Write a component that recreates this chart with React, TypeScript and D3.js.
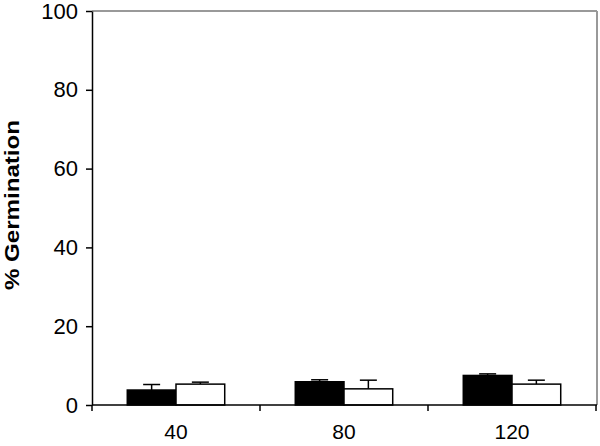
import { useEffect, useRef } from "react";
import * as d3 from "d3";

const categories = ["40", "80", "120"];
const seriesNames = ["dark", "light"];
const darkValues = [3.8, 5.9, 7.5];
const darkErrors = [1.4, 0.5, 0.4];
const lightValues = [5.3, 4.1, 5.3];
const lightErrors = [0.5, 2.2, 1.0];
const yTicks = [0, 20, 40, 60, 80, 100];

const width = 600;
const height = 446;
const marginTop = 11;
const marginBottom = 41;
const marginLeft = 92;
const marginRight = 4;
const font = "Liberation Sans, Arial, sans-serif";

const App = () => {
  const axisRef = useRef<SVGGElement>(null);
  const yAxisRef = useRef<SVGGElement>(null);

  const chartBottomY = height - marginBottom;

  const xScale = d3
    .scaleBand()
    .domain(categories)
    .range([marginLeft, width - marginRight]);

  const inner = d3
    .scaleBand()
    .domain(seriesNames)
    .range([0, xScale.bandwidth() * 0.58]);

  const yScale = d3
    .scaleLinear()
    .domain([0, 100])
    .range([chartBottomY, marginTop]);

  const rows = categories.map((c, i) => ({
    cat: c,
    bars: [
      { s: "dark", v: darkValues[i], e: darkErrors[i], fill: "#000" },
      { s: "light", v: lightValues[i], e: lightErrors[i], fill: "#fff" },
    ],
  }));

  useEffect(() => {
    const xAxis = d3.axisBottom(xScale).tickSize(0).tickPadding(19);
    const gx = d3.select(axisRef.current!);
    gx.call(xAxis);
    gx.select(".domain").remove();
    gx.selectAll("text")
      .attr("font-size", "21px")
      .attr("font-family", font)
      .attr("fill", "#000");

    const yAxis = d3.axisLeft(yScale).tickValues(yTicks).tickSize(6).tickSizeOuter(0).tickPadding(8);
    const gy = d3.select(yAxisRef.current!);
    gy.call(yAxis);
    gy.select(".domain").attr("stroke", "#000").attr("stroke-width", 1.5);
    gy.selectAll(".tick line").attr("stroke", "#000").attr("stroke-width", 1.5);
    gy.selectAll("text")
      .attr("font-size", "22px")
      .attr("font-family", font)
      .attr("fill", "#000");
  }, []);

  const boundaries = [...categories.map((c) => xScale(c)!), width - marginRight];
  const offset = (xScale.bandwidth() - inner.range()[1]) / 2;

  return (
    <svg
      width={width}
      height={height}
      viewBox={`0 0 ${width} ${height}`}
      style={{ position: "absolute", left: 0, top: 0, background: "#fff" }}
    >
      <line x1={marginLeft} x2={width - marginRight + 1} y1={marginTop} y2={marginTop} stroke="#999" strokeWidth={2} />
      <line x1={width - marginRight + 1} x2={width - marginRight + 1} y1={marginTop} y2={chartBottomY} stroke="#999" strokeWidth={2} />
      <g className="bars">
        {rows.map((r) =>
          r.bars.map((b) => {
            const x = xScale(r.cat)! + offset + inner(b.s)!;
            const cx = x + inner.bandwidth() / 2;
            return (
              <g key={r.cat + b.s}>
                <line x1={cx} x2={cx} y1={yScale(b.v)} y2={yScale(b.v + b.e)} stroke="#000" strokeWidth={1.5} />
                <line x1={cx - 8.5} x2={cx + 8.5} y1={yScale(b.v + b.e)} y2={yScale(b.v + b.e)} stroke="#000" strokeWidth={1.5} />
                <rect
                  x={x}
                  y={yScale(b.v)}
                  width={inner.bandwidth()}
                  height={chartBottomY - yScale(b.v)}
                  fill={b.fill}
                  stroke="#000"
                  strokeWidth={1.5}
                />
              </g>
            );
          })
        )}
      </g>
      <line x1={marginLeft} x2={width - marginRight + 1} y1={chartBottomY} y2={chartBottomY} stroke="#000" strokeWidth={1.5} />
      {boundaries.map((bx, i) => (
        <line key={i} x1={bx} x2={bx} y1={chartBottomY} y2={chartBottomY + 6} stroke="#000" strokeWidth={1.5} />
      ))}
      <g ref={axisRef} transform={`translate(0,${chartBottomY})`} />
      <g ref={yAxisRef} transform={`translate(${marginLeft},0)`} />
      <text
        transform={`translate(19,205) rotate(-90)`}
        textAnchor="middle"
        fontSize={21}
        fontWeight="bold"
        fontFamily={font}
        textLength={170}
        lengthAdjust="spacingAndGlyphs"
      >
        % Germination
      </text>
    </svg>
  );
};

export default App;
